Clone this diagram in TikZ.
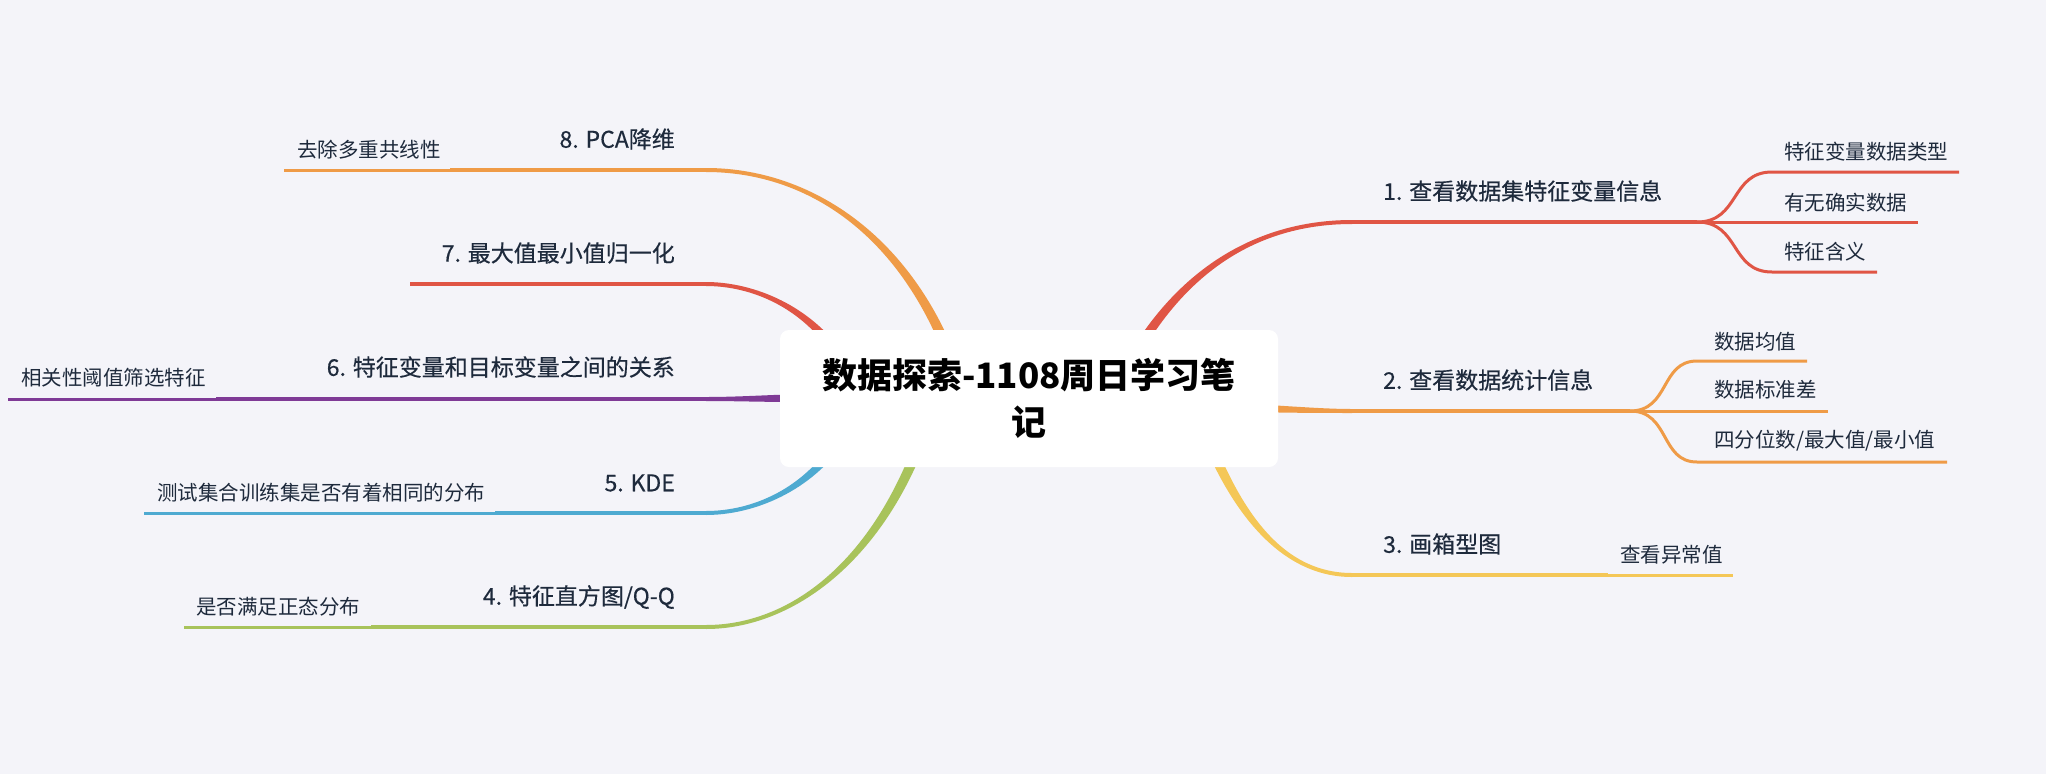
\documentclass[tikz,border=0pt]{standalone}
\usepackage{fontspec}
\setmainfont{Noto Sans CJK SC}
\newfontfamily\mmmainfont[FakeBold=0.4]{Noto Sans CJK SC}
\usetikzlibrary{calc}
\definecolor{bgc}{HTML}{F4F4F9}
\definecolor{cred}{HTML}{E05545}
\definecolor{corange}{HTML}{EF9B47}
\definecolor{cyellow}{HTML}{F4C757}
\definecolor{cgreen}{HTML}{A8C35B}
\definecolor{cblue}{HTML}{4EAAD1}
\definecolor{cpurple}{HTML}{7F3A96}
\definecolor{ctext}{HTML}{1E2A3C}
% tapered branch: colour, P0, P1, P2, P3, start half-width, end half-width
\newcommand\mmtaper[7]{%
  \fill[#1] ($(#2)!#6!90:(#3)$) .. controls ($(#3)!#6!-90:(#2)$) and ($(#4)!#7!90:(#5)$) .. ($(#5)!#7!-90:(#4)$)
    -- ($(#5)!#7!90:(#4)$) .. controls ($(#4)!#7!-90:(#5)$) and ($(#3)!#6!90:(#2)$) .. ($(#2)!#6!-90:(#3)$) -- cycle;}
\tikzset{
  mainline/.style={line width=4pt},
  subline/.style={line width=3pt},
  maintext/.style={inner sep=0pt, text=ctext, font=\mmmainfont\fontsize{23}{28}\selectfont},
  subtext/.style={inner sep=0pt, text=ctext, font=\fontsize{20.5}{25}\selectfont},
  roottext/.style={fill=white, rounded corners=9pt, minimum width=498pt, minimum height=137pt,
    align=center, text=black, inner sep=0pt, font=\fontsize{35}{47}\selectfont\bfseries},
}
\begin{document}
\begin{tikzpicture}[x=1pt,y=-1pt]
\fill[bgc] (0,0) rectangle (2046,774);
\useasboundingbox (0,0) rectangle (2046,774);
% ---- control coordinates ----
% 1
\coordinate (p1a) at (1100,430); \coordinate (p1b) at (1150,290); \coordinate (p1c) at (1240,222); \coordinate (p1d) at (1352,222);
\coordinate (f1) at (1697,222);
\coordinate (g1a) at (1772,172); \coordinate (e1a) at (1959,172);
\coordinate (e1b) at (1918,222);
\coordinate (g1c) at (1772,272); \coordinate (e1c) at (1877,272);
% 2
\coordinate (p2a) at (1250,408); \coordinate (p2b) at (1280,409); \coordinate (p2c) at (1320,411); \coordinate (p2d) at (1352,411);
\coordinate (f2) at (1630,411);
\coordinate (g2a) at (1697,361); \coordinate (e2a) at (1807,361);
\coordinate (e2b) at (1828,411);
\coordinate (g2c) at (1697,462); \coordinate (e2c) at (1947,462);
% 3
\coordinate (p3a) at (1190,390); \coordinate (p3b) at (1225,500); \coordinate (p3c) at (1275,575); \coordinate (p3d) at (1352,575);
\coordinate (f3) at (1608,575); \coordinate (e3) at (1733,575);
% 4
\coordinate (p4a) at (940,377); \coordinate (p4b) at (900,547); \coordinate (p4c) at (800,627); \coordinate (p4d) at (706,627);
\coordinate (f4) at (371,627); \coordinate (e4) at (184,627);
% 5
\coordinate (p5a) at (860,397); \coordinate (p5b) at (835,477); \coordinate (p5c) at (765,513); \coordinate (p5d) at (706,513);
\coordinate (f5) at (495,513); \coordinate (e5) at (144,513);
% 6
\coordinate (p6a) at (800,398); \coordinate (p6b) at (770,398.5); \coordinate (p6c) at (740,399); \coordinate (p6d) at (706,399);
\coordinate (f6) at (216,399); \coordinate (e6) at (8,399);
% 7
\coordinate (p7a) at (860,400); \coordinate (p7b) at (835,320); \coordinate (p7c) at (765,284); \coordinate (p7d) at (706,284);
\coordinate (e7) at (410,284);
% 8
\coordinate (p8a) at (970,420); \coordinate (p8b) at (930,250); \coordinate (p8c) at (820,170); \coordinate (p8d) at (706,170);
\coordinate (f8) at (450,170); \coordinate (e8) at (284,170);
% ---- branches ----
\mmtaper{cred}{p1a}{p1b}{p1c}{p1d}{5.5pt}{2pt}
\draw[mainline,cred] (p1d) -- (f1);
\draw[subline,cred] (f1) .. controls (1740,222) and (1730,172) .. (g1a) -- (e1a);
\draw[subline,cred] (f1) -- (e1b);
\draw[subline,cred] (f1) .. controls (1740,222) and (1730,272) .. (g1c) -- (e1c);

\mmtaper{corange}{p2a}{p2b}{p2c}{p2d}{3.8pt}{2pt}
\draw[mainline,corange] (p2d) -- (f2);
\draw[subline,corange] (f2) .. controls (1670,411) and (1660,361) .. (g2a) -- (e2a);
\draw[subline,corange] (f2) -- (e2b);
\draw[subline,corange] (f2) .. controls (1670,411) and (1660,462) .. (g2c) -- (e2c);

\mmtaper{cyellow}{p3a}{p3b}{p3c}{p3d}{5.5pt}{2pt}
\draw[mainline,cyellow] (p3d) -- (f3);
\draw[subline,cyellow] (f3) -- (e3);

\mmtaper{cgreen}{p4a}{p4b}{p4c}{p4d}{5.5pt}{2pt}
\draw[mainline,cgreen] (p4d) -- (f4);
\draw[subline,cgreen] (f4) -- (e4);

\mmtaper{cblue}{p5a}{p5b}{p5c}{p5d}{5.5pt}{2pt}
\draw[mainline,cblue] (p5d) -- (f5);
\draw[subline,cblue] (f5) -- (e5);

\mmtaper{cpurple}{p6a}{p6b}{p6c}{p6d}{3.8pt}{2pt}
\draw[mainline,cpurple] (p6d) -- (f6);
\draw[subline,cpurple] (f6) -- (e6);

\mmtaper{cred}{p7a}{p7b}{p7c}{p7d}{5.5pt}{2pt}
\draw[mainline,cred] (p7d) -- (e7);

\mmtaper{corange}{p8a}{p8b}{p8c}{p8d}{5.5pt}{2pt}
\draw[mainline,corange] (p8d) -- (f8);
\draw[subline,corange] (f8) -- (e8);
% ---- root ----
\node[roottext] (root) at (1029,398.5) {数据探索-1108周日学习笔\\记};
% ---- texts ----
\node[maintext,anchor=west] (t1) at (1383,191) {1. 查看数据集特征变量信息};
\node[subtext,anchor=west] (s1a) at (1784,152) {特征变量数据类型};
\node[subtext,anchor=west] (s1b) at (1784,203) {有无确实数据};
\node[subtext,anchor=west] (s1c) at (1784,252) {特征含义};
\node[maintext,anchor=west] (t2) at (1383,380) {2. 查看数据统计信息};
\node[subtext,anchor=west] (s2a) at (1714,342) {数据均值};
\node[subtext,anchor=west] (s2b) at (1714,390) {数据标准差};
\node[subtext,anchor=west] (s2c) at (1714,441) {四分位数/最大值/最小值};
\node[maintext,anchor=west] (t3) at (1383,544) {3. 画箱型图};
\node[subtext,anchor=west] (s3) at (1620,555) {查看异常值};
\node[maintext,anchor=east] (t4) at (675,597) {4. 特征直方图/Q-Q};
\node[subtext,anchor=west] (s4) at (196,607) {是否满足正态分布};
\node[maintext,anchor=east] (t5) at (675,483) {5. KDE};
\node[subtext,anchor=west] (s5) at (157,493) {测试集合训练集是否有着相同的分布};
\node[maintext,anchor=east] (t6) at (675,367) {6. 特征变量和目标变量之间的关系};
\node[subtext,anchor=west] (s6) at (21,378) {相关性阈值筛选特征};
\node[maintext,anchor=east] (t7) at (675,253) {7. 最大值最小值归一化};
\node[maintext,anchor=east] (t8) at (675,139) {8. PCA降维};
\node[subtext,anchor=west] (s8) at (297,150) {去除多重共线性};
\end{tikzpicture}
\end{document}
